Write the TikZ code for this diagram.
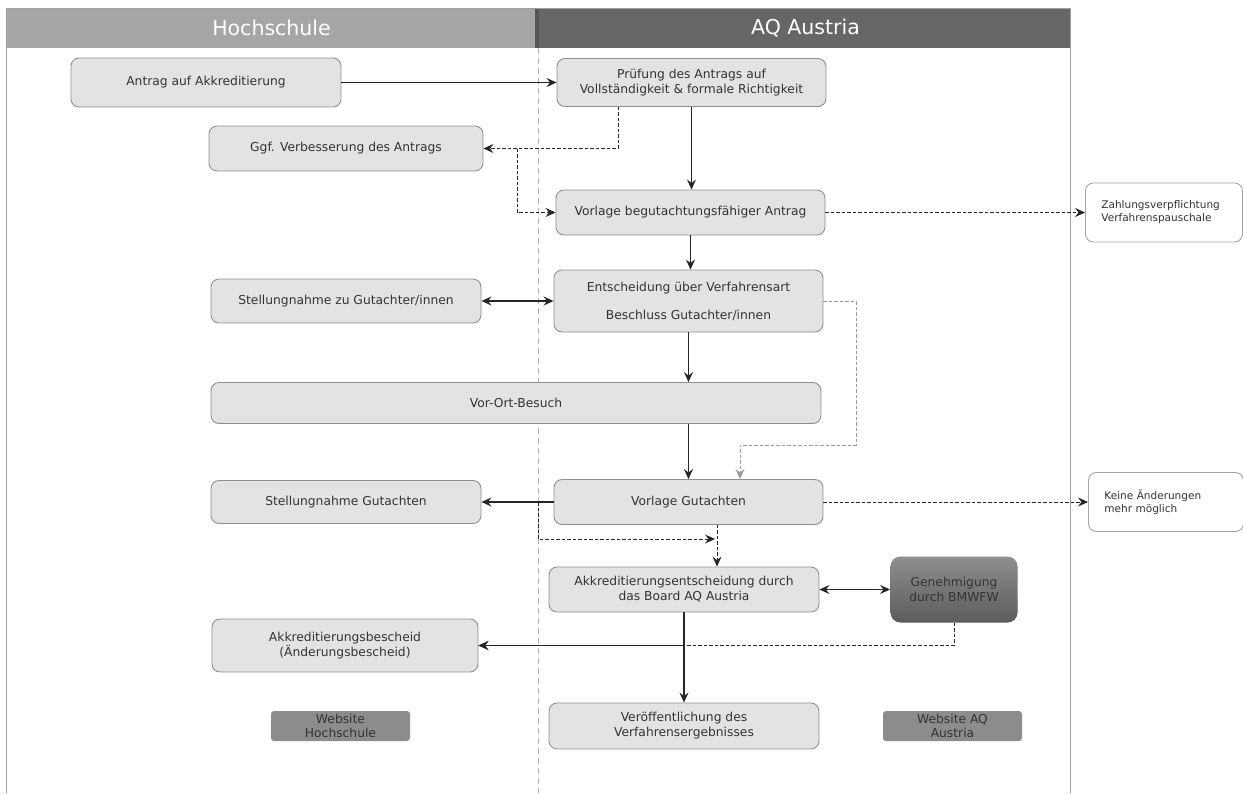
\documentclass[tikz,border=0pt]{standalone}
\usepackage{fontspec}
\setmainfont{DejaVu Sans}
\usetikzlibrary{arrows.meta}
\definecolor{boxfill}{HTML}{E3E3E3}
\definecolor{boxline}{HTML}{8F8F8F}
\definecolor{boxtext}{HTML}{333333}
\definecolor{hdrlight}{HTML}{A6A6A6}
\definecolor{hdrdark}{HTML}{666666}
\definecolor{hdrsep}{HTML}{555555}
\definecolor{arrowc}{HTML}{262626}
\definecolor{dashgray}{HTML}{9A9A9A}
\definecolor{webfill}{HTML}{8C8C8C}
\definecolor{gentop}{HTML}{8E8E8E}
\definecolor{genbot}{HTML}{5C5C5C}
\definecolor{frame}{HTML}{A0A0A0}
\begin{document}
\begin{tikzpicture}[x=1pt,y=-1pt]
	\tikzstyle{stepbox}=[draw=boxline,line width=0.9pt,fill=boxfill,rounded corners=8pt,text=boxtext,align=center,inner sep=0pt,font=\fontsize{12.3}{15}\selectfont]
	\tikzstyle{notebox}=[draw=boxline!80,line width=0.9pt,fill=white,rounded corners=8pt,text=boxtext,align=left,inner xsep=16pt,anchor=west,font=\fontsize{10.5}{13}\selectfont]
	\tikzstyle{webbox}=[fill=webfill,rounded corners=3pt,text=boxtext,align=center,inner sep=0pt,minimum width=139,minimum height=30,font=\fontsize{12.3}{14.7}\selectfont]
	\tikzstyle{hdrtext}=[text=white,font=\fontsize{20.5}{24}\selectfont]
	\tikzstyle{myarrow}=[line width=1.2pt,draw=arrowc,>={Stealth[length=10pt,width=9pt,inset=3.5pt]},->]
	\tikzstyle{mydash}=[myarrow,line width=0.9pt,dash pattern=on 3.5pt off 2pt]
	\tikzstyle{mygray}=[mydash,draw=dashgray]
	\useasboundingbox (0,0) rectangle (1243,793);

	% lanes
	\fill[hdrlight] (6,8) rectangle (537,48);
	\fill[hdrdark] (537,8) rectangle (1070,48);
	\fill[hdrsep] (535,8) rectangle (539,48);
	\draw[frame,line width=1pt] (6,793) -- (6,8) -- (1070,8) -- (1070,793);
	\draw[frame!80,line width=0.9pt,dash pattern=on 6pt off 4pt] (538,48) -- (538,793);
	\node[hdrtext] (hs) at (271.5,28) {Hochschule};
	\node[hdrtext] (aq) at (805.5,28) {AQ Austria};

	% steps
	\node[stepbox,minimum width=270,minimum height=49] (antrag) at (206,82.5) {Antrag auf Akkreditierung};
	\node[stepbox,minimum width=269,minimum height=48] (pruef) at (691.5,82.5) {Prüfung des Antrags auf\\Vollständigkeit \& formale Richtigkeit};
	\node[stepbox,minimum width=274,minimum height=45] (verbess) at (346,148.5) {Ggf. Verbesserung des Antrags};
	\node[stepbox,minimum width=269,minimum height=45] (vorlbeg) at (690.5,212.5) {Vorlage begutachtungsfähiger Antrag};
	\node[notebox,minimum width=157,minimum height=59,text width=125] (zahlung) at (1085,212.5) {Zahlungsverpflichtung\\Verfahrenspauschale};
	\node[stepbox,minimum width=270,minimum height=44] (stellgut) at (346,301) {Stellungnahme zu Gutachter/innen};
	\node[stepbox,minimum width=269,minimum height=62] (entsch) at (688.5,301) {Entscheidung über Verfahrensart\\[13pt]Beschluss Gutachter/innen};
	\node[stepbox,minimum width=610,minimum height=41] (vorort) at (516,403) {Vor-Ort-Besuch};
	\node[stepbox,minimum width=269,minimum height=45] (vorlgut) at (688.5,502) {Vorlage Gutachten};
	\node[stepbox,minimum width=270,minimum height=43] (stellgutacht) at (346,502) {Stellungnahme Gutachten};
	\node[notebox,minimum width=155,minimum height=59,text width=123] (keine) at (1088,502) {Keine Änderungen\\mehr möglich};
	\node[stepbox,minimum width=270,minimum height=45] (akkent) at (684,589.5) {Akkreditierungsentscheidung durch\\das Board AQ Austria};
	\node[stepbox,draw=none,rounded corners=10pt,top color=gentop,bottom color=genbot,minimum width=127,minimum height=66] (genehm) at (954,589.5) {Genehmigung\\durch BMWFW};
	\node[stepbox,minimum width=266,minimum height=53] (bescheid) at (345,645.5) {Akkreditierungsbescheid\\(Änderungsbescheid)};
	\node[webbox] (webhs) at (340.5,726) {Website\\Hochschule};
	\node[stepbox,minimum width=270,minimum height=46] (veroeff) at (684,726) {Veröffentlichung des\\Verfahrensergebnisses};
	\node[webbox] (webaq) at (952.5,726) {Website AQ\\Austria};

	% connectors
	\coordinate (br1) at (517,148.5);
	\coordinate (g1) at (856,445);
	\coordinate (br2) at (538,502);
	\coordinate (d2) at (715,539);

	\draw[myarrow] (antrag) -- (pruef);
	\draw[mydash] ([xshift=-73.5]pruef.south) |- (verbess.east);
	\draw[mydash] (br1) |- (vorlbeg.west);
	\draw[myarrow] (pruef.south) -- (pruef.south |- vorlbeg.north);
	\draw[mydash] (vorlbeg.east) -- (vorlbeg.east -| zahlung.west);
	\draw[myarrow] (vorlbeg.south) -- (vorlbeg.south |- entsch.north);
	\draw[myarrow,<->] (stellgut) -- (entsch);
	\draw[myarrow] (entsch.south) -- (entsch.south |- vorort.north);
	\draw[mygray] (entsch.east) -| (g1) -| ([xshift=51.5]vorlgut.north);
	\draw[myarrow] (vorlgut.north |- vorort.south) -- (vorlgut.north);
	\draw[myarrow] (vorlgut) -- (stellgutacht);
	\draw[mydash] (br2) |- (d2);
	\draw[mydash] ([xshift=28.5]vorlgut.south) -- ([xshift=33]akkent.north);
	\draw[mydash] (vorlgut) -- (keine);
	\draw[myarrow,<->] (akkent) -- (genehm);
	\draw[myarrow] (akkent) -- (veroeff);
	\draw[myarrow] (akkent.south |- bescheid.east) -- (bescheid.east);
	\draw[mydash] (genehm.south) |- (bescheid.east);
\end{tikzpicture}
\end{document}
